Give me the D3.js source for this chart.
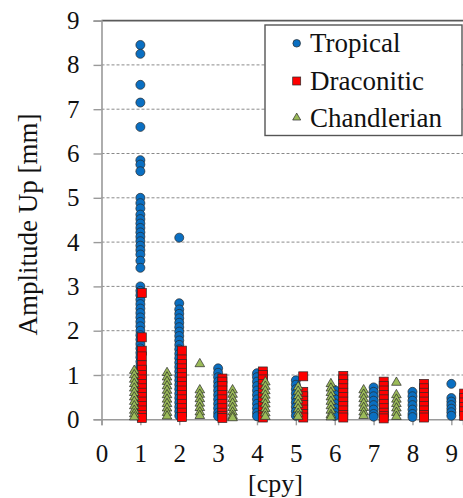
<!DOCTYPE html>
<html>
<head>
<meta charset="utf-8">
<script src="https://cdn.jsdelivr.net/npm/d3@7"></script>
<style>
  body { margin: 0; background: #fff; }
  svg text { fill: #111; }
</style>
</head>
<body>
<div id="chart"></div>
<script>
// frequencies (cpy) of each harmonic column
const tropicalFreq = [1, 2, 3, 4, 5, 6, 7, 8, 9];
const draconiticFreq = [1.037, 2.07, 3.11, 4.15, 5.19, 6.22, 7.26, 8.30, 9.33];
const chandlerFreq = [0.843, 1.686, 2.529, 3.372, 4.215, 5.058, 5.901, 6.744, 7.587];

// amplitudes [mm] per harmonic column
const tropicalAmp = [
  [8.45, 8.25, 7.55, 7.15, 6.6, 5.85, 5.75, 5.6, 5.0, 4.88, 4.76, 4.62, 4.52, 4.42, 4.32, 4.22, 4.12, 4.02, 3.92, 3.82, 3.72, 3.58, 3.42,
   3.0, 2.9, 2.8, 2.7, 2.6, 2.5, 2.4, 2.3, 2.2, 2.1, 2.0, 1.9, 1.8, 1.7, 1.6, 1.5, 1.4, 1.3, 1.2, 1.1, 1.0, 0.9, 0.8, 0.7, 0.6, 0.5, 0.4, 0.3, 0.2, 0.1, 0.05],
  [4.1, 2.62, 2.48, 2.38, 2.28, 2.18, 2.08, 1.98, 1.88, 1.78, 1.68, 1.58, 1.48, 1.38, 1.28, 1.18, 1.08, 0.98, 0.88, 0.78, 0.68, 0.58, 0.48, 0.38, 0.28, 0.18, 0.08],
  [1.15, 1.05, 0.95, 0.85, 0.75, 0.65, 0.55, 0.45, 0.35, 0.25, 0.15, 0.07],
  [1.04, 0.95, 0.85, 0.75, 0.65, 0.55, 0.45, 0.35, 0.25, 0.15, 0.07],
  [0.88, 0.78, 0.68, 0.58, 0.48, 0.38, 0.28, 0.18, 0.08],
  [0.66, 0.56, 0.46, 0.36, 0.26, 0.16, 0.08],
  [0.72, 0.62, 0.52, 0.42, 0.32, 0.22, 0.12, 0.06],
  [0.62, 0.52, 0.42, 0.32, 0.22, 0.12, 0.05],
  [0.8, 0.48, 0.4, 0.32, 0.24, 0.16, 0.08]
];
const draconiticAmp = [
  [2.85, 1.85, 1.55, 1.42, 1.22, 1.12, 1.0, 0.9, 0.8, 0.7, 0.6, 0.5, 0.4, 0.3, 0.2, 0.1, 0.03],
  [1.55, 1.35, 1.25, 1.15, 1.05, 0.95, 0.85, 0.75, 0.65, 0.55, 0.45, 0.35, 0.25, 0.15, 0.05],
  [0.92, 0.85, 0.75, 0.65, 0.55, 0.45, 0.35, 0.25, 0.15, 0.07, 0.03],
  [1.08, 1.0, 0.9, 0.8, 0.7, 0.6, 0.5, 0.4, 0.3, 0.2, 0.1, 0.04],
  [0.97, 0.62, 0.52, 0.42, 0.32, 0.22, 0.12, 0.04],
  [0.98, 0.9, 0.8, 0.7, 0.6, 0.5, 0.4, 0.3, 0.2, 0.1, 0.04],
  [0.85, 0.75, 0.65, 0.55, 0.45, 0.35, 0.25, 0.15, 0.07, 0.02],
  [0.8, 0.7, 0.6, 0.5, 0.4, 0.3, 0.2, 0.1, 0.04],
  [0.58, 0.48, 0.38, 0.28, 0.18, 0.08]
];
const chandlerAmp = [
  [1.1, 1.0, 0.9, 0.8, 0.7, 0.6, 0.5, 0.4, 0.3, 0.2, 0.12, 0.05],
  [1.05, 0.95, 0.85, 0.75, 0.65, 0.55, 0.45, 0.35, 0.25, 0.15, 0.07],
  [1.25, 0.66, 0.56, 0.46, 0.36, 0.26, 0.16, 0.08],
  [0.66, 0.56, 0.46, 0.36, 0.26, 0.16, 0.08, 0.03],
  [0.84, 0.74, 0.64, 0.54, 0.44, 0.34, 0.24, 0.14, 0.06],
  [0.73, 0.63, 0.53, 0.43, 0.33, 0.23, 0.13, 0.06],
  [0.8, 0.7, 0.6, 0.5, 0.4, 0.3, 0.2, 0.1, 0.05],
  [0.66, 0.56, 0.46, 0.36, 0.26, 0.16, 0.08],
  [0.83, 0.55, 0.45, 0.35, 0.25, 0.15, 0.06]
];

const xTicks = [0, 1, 2, 3, 4, 5, 6, 7, 8, 9];
const yTicks = [0, 1, 2, 3, 4, 5, 6, 7, 8, 9];
const seriesNames = ["Tropical", "Draconitic", "Chandlerian"];

const FONT = "'Liberation Serif', 'Times New Roman', serif";

const W = 463, H = 498;
const margin = {top: 20.6, right: 0, bottom: 78.7, left: 101.5};
const width = W - margin.left - margin.right,
      height = H - margin.top - margin.bottom;

const x = d3.scaleLinear().domain([0, 9.3]).range([0, width]);
const y = d3.scaleLinear().domain([0, 9]).range([height, 0]);

const svg = d3.select("#chart").append("svg")
    .attr("width", W)
    .attr("height", H)
    .style("font-family", FONT);
const g = svg.append("g")
    .attr("transform", "translate(" + margin.left + "," + margin.top + ")");

// dashed gridlines
g.selectAll(".grid")
    .data(yTicks.filter(d => d > 0 && d < 9))
    .enter().append("line")
    .attr("x1", 0).attr("x2", width)
    .attr("y1", d => y(d)).attr("y2", d => y(d))
    .attr("stroke", "#8a8a8a")
    .attr("stroke-width", 1)
    .attr("stroke-dasharray", "3,2");

// top border
g.append("line")
    .attr("x1", 0).attr("x2", width)
    .attr("y1", y(9)).attr("y2", y(9))
    .attr("stroke", "#5a5a5a")
    .attr("stroke-width", 1.6);

// Y axis
const yAxis = g.append("g")
    .call(d3.axisLeft(y).tickValues(yTicks).tickSize(8).tickPadding(14))
    .attr("font-family", FONT);
yAxis.select(".domain").attr("stroke", "#9a9a9a").attr("stroke-width", 1.6);
yAxis.selectAll(".tick line").attr("stroke", "#9a9a9a").attr("stroke-width", 1.4);
yAxis.selectAll("text").style("font-size", "25px")
    .style("font-family", FONT).attr("fill", "#111");

// X axis at zero
const xAxis = g.append("g")
    .attr("transform", "translate(0," + height + ")")
    .call(d3.axisBottom(x).tickValues(xTicks).tickSize(6).tickPadding(8))
    .attr("font-family", FONT);
xAxis.select(".domain").attr("stroke", "#9a9a9a").attr("stroke-width", 1.6);
xAxis.selectAll(".tick line").attr("stroke", "#9a9a9a").attr("stroke-width", 1.4);
xAxis.selectAll("text").style("font-size", "25px")
    .style("font-family", FONT).attr("fill", "#111")
    .attr("y", 25).attr("dy", "0.71em");

function flatten(freqs, amps) {
    let out = [];
    freqs.forEach((f, i) => {
        amps[i].forEach(a => out.push({f: f, a: a}));
    });
    return out;
}

const stroke = "#2a2a2a";

// Tropical circles
g.selectAll(".trop")
    .data(flatten(tropicalFreq, tropicalAmp))
    .enter().append("circle")
    .attr("cx", d => x(d.f))
    .attr("cy", d => y(d.a))
    .attr("r", 4.5)
    .attr("fill", "#0a6fc2")
    .attr("stroke", stroke)
    .attr("stroke-width", 0.7);

// Draconitic squares
g.selectAll(".drac")
    .data(flatten(draconiticFreq, draconiticAmp))
    .enter().append("rect")
    .attr("x", d => x(d.f) - 4.5)
    .attr("y", d => y(d.a) - 4.5)
    .attr("width", 9)
    .attr("height", 9)
    .attr("fill", "#ff0000")
    .attr("stroke", stroke)
    .attr("stroke-width", 0.7);

// Chandlerian triangles
const tri = d3.symbol().type(d3.symbolTriangle).size(40);
g.selectAll(".chan")
    .data(flatten(chandlerFreq, chandlerAmp))
    .enter().append("path")
    .attr("d", tri)
    .attr("transform", d => "translate(" + x(d.f) + "," + y(d.a) + ")")
    .attr("fill", "#9bbb59")
    .attr("stroke", stroke)
    .attr("stroke-width", 0.7);

// axis titles
svg.append("text")
    .attr("transform", "translate(37,224.5) rotate(-90)")
    .style("text-anchor", "middle")
    .style("font-size", "27px")
    .style("font-family", FONT)
    .text("Amplitude Up [mm]");

svg.append("text")
    .attr("x", 275.5)
    .attr("y", 492)
    .style("text-anchor", "middle")
    .style("font-size", "26px")
    .style("font-family", FONT)
    .text("[cpy]");

// legend
const legend = svg.append("g");
legend.append("rect")
    .attr("x", 265).attr("y", 25)
    .attr("width", 197).attr("height", 110.5)
    .attr("fill", "#fff")
    .attr("stroke", "#555")
    .attr("stroke-width", 1.4);

const rowY = [43.3, 81, 117.7];
legend.append("circle")
    .attr("cx", 296.7).attr("cy", rowY[0]).attr("r", 3.8)
    .attr("fill", "#0a6fc2").attr("stroke", stroke).attr("stroke-width", 0.7);
legend.append("rect")
    .attr("x", 296.7 - 4).attr("y", rowY[1] - 4).attr("width", 8).attr("height", 8)
    .attr("fill", "#ff0000").attr("stroke", stroke).attr("stroke-width", 0.7);
legend.append("path")
    .attr("d", d3.symbol().type(d3.symbolTriangle).size(28))
    .attr("transform", "translate(296.7," + rowY[2] + ")")
    .attr("fill", "#9bbb59").attr("stroke", stroke).attr("stroke-width", 0.7);

legend.selectAll(".ltext")
    .data(seriesNames)
    .enter().append("text")
    .attr("x", 310)
    .attr("y", (d, i) => rowY[i] + 9)
    .style("font-size", "27px")
    .style("font-family", FONT)
    .text(d => d);
</script>
</body>
</html>
